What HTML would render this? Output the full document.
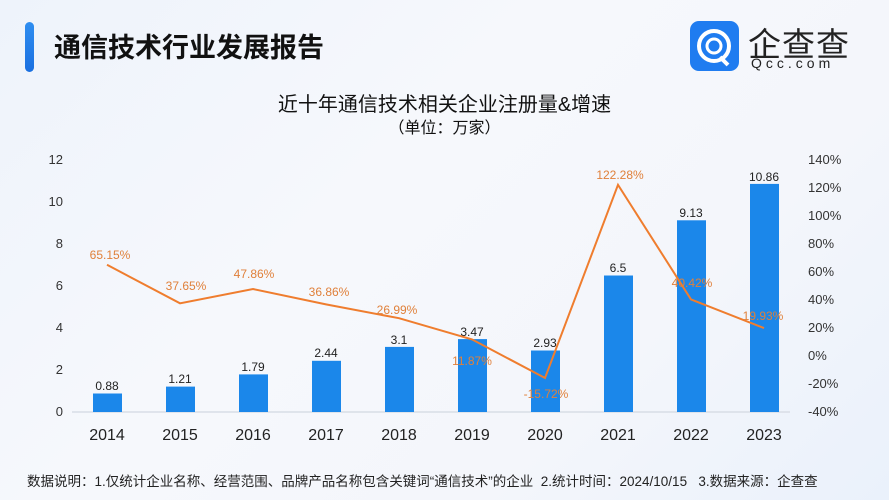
<!DOCTYPE html>
<html><head><meta charset="utf-8"><style>
html,body{margin:0;padding:0}
body{width:889px;height:500px;overflow:hidden;background:linear-gradient(135deg,#eef3fb 0%,#f6f8fc 40%,#f4f6fb 70%,#eaf1fb 100%);font-family:"Liberation Sans","Noto Sans CJK SC",sans-serif;position:relative}
.t{position:absolute;white-space:nowrap}
</style></head><body>
<div style="position:absolute;left:25px;top:22px;width:9px;height:50px;border-radius:5px;background:linear-gradient(#2f8ef0,#1a6fe0)"></div>
<div class="t" style="left:54px;top:26px;font-size:27px;font-weight:bold;color:#111">通信技术行业发展报告</div>
<div style="position:absolute;left:690px;top:21px;width:49px;height:50px;border-radius:9px;background:#1f7cf0"></div>
<svg style="position:absolute;left:690px;top:21px" width="49" height="50"><circle cx="24" cy="25" r="15" fill="none" stroke="#fff" stroke-width="4"/><circle cx="24" cy="25" r="7" fill="none" stroke="#fff" stroke-width="3"/><path d="M30 36 L38 44" stroke="#fff" stroke-width="4"/></svg>
<div class="t" style="left:748px;top:18px;font-size:33px;color:#222;letter-spacing:1px">企查查</div>
<div class="t" style="left:751px;top:55px;font-size:14px;color:#222;letter-spacing:4px">Qcc.com</div>
<div class="t" style="left:0;width:889px;text-align:center;top:88px;font-size:20px;color:#111">近十年通信技术相关企业注册量&amp;增速</div>
<div class="t" style="left:0;width:889px;text-align:center;top:114px;font-size:16px;color:#111">（单位：万家）</div>
<svg style="position:absolute;left:0;top:0" width="889" height="500" font-family="Liberation Sans, sans-serif">
<line x1="72" y1="412" x2="790" y2="412" stroke="#d8dde6" stroke-width="1.5"/>
<g font-size="13" fill="#333" text-anchor="end">
<text x="63" y="416">0</text><text x="63" y="374">2</text><text x="63" y="332">4</text><text x="63" y="290">6</text><text x="63" y="248">8</text><text x="63" y="206">10</text><text x="63" y="164">12</text></g>
<g font-size="13" fill="#333" text-anchor="start">
<text x="808" y="416">-40%</text><text x="808" y="388">-20%</text><text x="808" y="360">0%</text><text x="808" y="332">20%</text><text x="808" y="304">40%</text><text x="808" y="276">60%</text><text x="808" y="248">80%</text><text x="808" y="220">100%</text><text x="808" y="192">120%</text><text x="808" y="164">140%</text></g>
<g fill="#1b87ea">
<rect x="93" y="393.5" width="29" height="18.5"/><rect x="166" y="386.6" width="29" height="25.4"/><rect x="239" y="374.4" width="29" height="37.6"/><rect x="312" y="360.8" width="29" height="51.2"/><rect x="385" y="346.9" width="29" height="65.1"/><rect x="458" y="339.1" width="29" height="72.9"/><rect x="531" y="350.5" width="29" height="61.5"/><rect x="604" y="275.5" width="29" height="136.5"/><rect x="677" y="220.3" width="29" height="191.7"/><rect x="750" y="183.9" width="29" height="228.1"/></g>
<g font-size="12" fill="#222" text-anchor="middle">
<text x="107" y="390">0.88</text><text x="180" y="383">1.21</text><text x="253" y="371">1.79</text><text x="326" y="357">2.44</text><text x="399" y="344">3.1</text><text x="472" y="336">3.47</text><text x="545" y="347">2.93</text><text x="618" y="272">6.5</text><text x="691" y="217">9.13</text><text x="764" y="181">10.86</text></g>
<polyline fill="none" stroke="#ef7d2e" stroke-width="2" points="107,264.8 180,303.3 253,289 326,304.4 399,318.2 472,339.4 545,378 618,184.8 691,299.4 764,328.1"/>
<g font-size="12" fill="#e0803a" text-anchor="middle">
<text x="110" y="259">65.15%</text><text x="186" y="290">37.65%</text><text x="254" y="278">47.86%</text><text x="329" y="296">36.86%</text><text x="397" y="314">26.99%</text><text x="472" y="365">11.87%</text><text x="546" y="398">-15.72%</text><text x="620" y="179">122.28%</text><text x="692" y="287">40.42%</text><text x="763" y="320">19.93%</text></g>
<g font-size="16" fill="#222" text-anchor="middle">
<text x="107" y="440">2014</text><text x="180" y="440">2015</text><text x="253" y="440">2016</text><text x="326" y="440">2017</text><text x="399" y="440">2018</text><text x="472" y="440">2019</text><text x="545" y="440">2020</text><text x="618" y="440">2021</text><text x="691" y="440">2022</text><text x="764" y="440">2023</text></g>
</svg>
<div class="t" style="left:27px;top:470px;font-size:13.5px;color:#222">数据说明：1.仅统计企业名称、经营范围、品牌产品名称包含关键词“通信技术”的企业&nbsp;&nbsp;2.统计时间：2024/10/15&nbsp;&nbsp;&nbsp;3.数据来源：企查查</div>
</body></html>
